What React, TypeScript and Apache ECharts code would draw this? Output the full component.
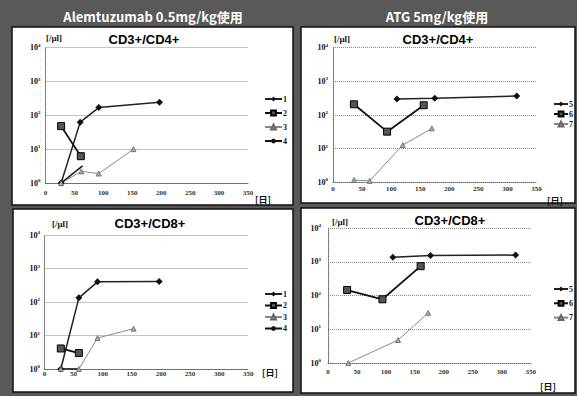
import React, { useEffect, useRef } from "react";
import * as echarts from "echarts";

// ---- data ----
const xTicks = [0, 50, 100, 150, 200, 250, 300, 350];
const panelTitles = ["CD3+/CD4+", "CD3+/CD4+", "CD3+/CD8+", "CD3+/CD8+"];
const headerTitles = ["Alemtuzumab 0.5mg/kg使用", "ATG 5mg/kg使用"];
const leftPatients = ["1", "2", "3", "4"];
const rightPatients = ["5", "6", "7"];

// Top-left: Alemtuzumab, CD3+/CD4+  [day, cells/μl]
const tlP1 = [[27, 1], [60, 63], [92, 170], [197, 245]];
const tlP2 = [[27, 48], [61, 6.2]];
const tlP3 = [[27, 1], [62, 2.2], [92, 1.9], [152, 10]];
const tlP4 = [[27, 1], [64, 3.2]];

// Top-right: ATG, CD3+/CD4+
const trP5 = [[110, 300], [175, 313], [316, 367]];
const trP6 = [[36, 208], [93, 32], [156, 195]];
const trP7 = [[36, 1.17], [63, 1.1], [120, 12.8], [170, 40]];

// Bottom-left: Alemtuzumab, CD3+/CD8+
const blP1 = [[28, 1], [59, 133], [91, 400], [197, 410]];
const blP2 = [[28, 4.1], [59, 3.0]];
const blP3 = [[28, 1], [59, 1], [91, 8.4], [153, 16]];
const blP4 = [[28, 1], [59, 1]];

// Bottom-right: ATG, CD3+/CD8+
const brP5 = [[112, 1370], [177, 1570], [324, 1600]];
const brP6 = [[33, 147], [94, 78], [160, 750]];
const brP7 = [[35, 1], [121, 4.8], [173, 31]];

const SERIF = "'Liberation Serif', 'DejaVu Serif', serif";
const SANS = "'Liberation Sans', Arial, sans-serif";
const CJK = "'Noto Sans CJK JP', 'Noto Sans', sans-serif";

type Kind = "dia" | "sq" | "tri" | "ln";

function styleFor(kind: Kind) {
  if (kind === "dia")
    return {
      symbol: "diamond",
      symbolSize: 7,
      itemStyle: { color: "#111" },
      lineStyle: { color: "#222", width: 1.5 },
    };
  if (kind === "sq")
    return {
      symbol: "rect",
      symbolSize: 7,
      itemStyle: { color: "#555", borderColor: "#000", borderWidth: 1 },
      lineStyle: { color: "#111", width: 1.8 },
    };
  if (kind === "tri")
    return {
      symbol: "triangle",
      symbolSize: 5,
      itemStyle: { color: "#aaa", borderColor: "#666", borderWidth: 0.8 },
      lineStyle: { color: "#888", width: 1 },
    };
  return {
    symbol: "none",
    symbolSize: 3,
    itemStyle: { color: "#111" },
    lineStyle: { color: "#111", width: 1.5 },
  };
}

export default function App() {
  const ref = useRef<HTMLDivElement>(null);

  useEffect(() => {
    if (!ref.current) return;
    const chart = echarts.init(ref.current, null, { renderer: "svg" });

    const grids = [
      { left: 45.5, top: 47.7, width: 202.5, height: 135.3, yM: 5, xM: 6 },
      { left: 333, top: 47.7, width: 203.5, height: 134.6, yM: 5, xM: 3 },
      { left: 44.5, top: 235, width: 203.8, height: 134, yM: 4.5, xM: 1 },
      { left: 328, top: 228.3, width: 202.7, height: 134.7, yM: 7, xM: 5 },
    ];

    const panelData: { name: string; kind: Kind; data: number[][] }[][] = [
      [
        { name: leftPatients[0], kind: "dia", data: tlP1 },
        { name: leftPatients[1], kind: "sq", data: tlP2 },
        { name: leftPatients[2], kind: "tri", data: tlP3 },
        { name: leftPatients[3], kind: "ln", data: tlP4 },
      ],
      [
        { name: rightPatients[0], kind: "dia", data: trP5 },
        { name: rightPatients[1], kind: "sq", data: trP6 },
        { name: rightPatients[2], kind: "tri", data: trP7 },
      ],
      [
        { name: leftPatients[0], kind: "dia", data: blP1 },
        { name: leftPatients[1], kind: "sq", data: blP2 },
        { name: leftPatients[2], kind: "tri", data: blP3 },
        { name: leftPatients[3], kind: "ln", data: blP4 },
      ],
      [
        { name: rightPatients[0], kind: "dia", data: brP5 },
        { name: rightPatients[1], kind: "sq", data: brP6 },
        { name: rightPatients[2], kind: "tri", data: brP7 },
      ],
    ];

    const series: any[] = [];
    panelData.forEach((list, gi) => {
      list.forEach((s) => {
        series.push({
          type: "line",
          name: s.name,
          xAxisIndex: gi,
          yAxisIndex: gi,
          data: s.data,
          ...styleFor(s.kind),
        });
      });
    });

    const legendPos = [
      { left: 264, top: 94, gap: 4, width: 17, data: leftPatients },
      { left: 553, top: 99, gap: 0, width: 14, data: rightPatients },
      { left: 264, top: 289, gap: 1.5, width: 17, data: leftPatients },
      { left: 553, top: 284, gap: 4.3, width: 14, data: rightPatients },
    ];

    const panels = [
      { x: 12, y: 27, w: 281, h: 178 },
      { x: 301, y: 27, w: 274, h: 176 },
      { x: 13, y: 209, w: 280, h: 183 },
      { x: 301, y: 208, w: 274, h: 185 },
    ];

    const titlePos = [
      [144, 39],
      [438, 39],
      [150, 223],
      [450, 220],
    ];
    const unitPos = [
      [54, 38],
      [342, 39],
      [60, 224],
      [340, 222],
    ];
    const dayPos = [
      [263, 199],
      [555, 200],
      [270, 372],
      [548, 386],
    ];

    const graphic: any[] = [];
    panels.forEach((p) => {
      graphic.push({
        type: "rect",
        z: -10,
        shape: { x: p.x, y: p.y, width: p.w, height: p.h },
        style: { fill: "#fff", stroke: "#111", lineWidth: 1.5 },
        silent: true,
      });
    });
    graphic.push(
      {
        type: "text",
        x: 153,
        y: 16,
        style: {
          text: headerTitles[0],
          fill: "#fff",
          font: `bold 13px ${CJK}`,
          textAlign: "center",
          textVerticalAlign: "middle",
        },
      },
      {
        type: "text",
        x: 437,
        y: 16,
        style: {
          text: headerTitles[1],
          fill: "#fff",
          font: `bold 13px ${CJK}`,
          textAlign: "center",
          textVerticalAlign: "middle",
        },
      }
    );
    titlePos.forEach((t, i) => {
      graphic.push({
        type: "text",
        x: t[0],
        y: t[1],
        style: {
          text: panelTitles[i],
          fill: "#000",
          font: `bold 13px ${SANS}`,
          textAlign: "center",
          textVerticalAlign: "middle",
        },
      });
    });
    unitPos.forEach((t) => {
      graphic.push({
        type: "text",
        x: t[0],
        y: t[1],
        style: {
          text: "[/μl]",
          fill: "#111",
          font: `bold 9px ${SERIF}`,
          textAlign: "center",
          textVerticalAlign: "middle",
        },
      });
    });
    dayPos.forEach((t) => {
      graphic.push({
        type: "text",
        x: t[0],
        y: t[1],
        style: {
          text: "[日]",
          fill: "#111",
          font: `bold 9px ${CJK}`,
          textAlign: "center",
          textVerticalAlign: "middle",
        },
      });
    });

    const option: any = {
      animation: false,
      backgroundColor: "#595959",
      graphic,
      grid: grids.map((g) => ({
        left: g.left,
        top: g.top,
        width: g.width,
        height: g.height,
        containLabel: false,
      })),
      xAxis: grids.map((g, i) => ({
        type: "value",
        gridIndex: i,
        min: xTicks[0],
        max: xTicks[xTicks.length - 1],
        interval: xTicks[1] - xTicks[0],
        axisLine: { show: true, lineStyle: { color: "#666", type: "dotted", width: 1 } },
        axisTick: { show: false },
        splitLine: { show: false },
        axisLabel: {
          margin: g.xM,
          fontSize: 7,
          fontFamily: SERIF,
          fontWeight: "bold",
          color: "#333",
        },
      })),
      yAxis: grids.map((g, i) => ({
        type: "log",
        logBase: 10,
        gridIndex: i,
        min: 1,
        max: 10000,
        axisLine: { show: true, lineStyle: { color: "#666", type: "dotted", width: 1 } },
        axisTick: { show: false },
        splitLine: { show: true, lineStyle: { color: "#888", type: "dotted", width: 1 } },
        axisLabel: {
          margin: g.yM,
          formatter: (v: number) => `{b|10}{s|${Math.round(Math.log10(v))}}`,
          rich: {
            b: { fontSize: 8, fontFamily: SERIF, fontWeight: "bold", color: "#111" },
            s: {
              fontSize: 5,
              fontFamily: SERIF,
              fontWeight: "bold",
              color: "#111",
              padding: [0, 0, 5, 0],
            },
          },
        },
      })),
      legend: legendPos.map((l) => ({
        data: l.data,
        orient: "vertical",
        left: l.left,
        top: l.top,
        itemGap: l.gap,
        itemWidth: l.width,
        itemHeight: 6,
        padding: 0,
        selectedMode: false,
        textStyle: {
          fontSize: 8,
          fontFamily: SERIF,
          fontWeight: "bold",
          color: "#111",
          lineHeight: 10,
          padding: [0, 0, 0, -4],
        },
      })),
      series,
    };

    chart.setOption(option);
    return () => chart.dispose();
  }, []);

  return (
    <div
      ref={ref}
      style={{ position: "absolute", left: 0, top: 0, width: 577, height: 396 }}
    />
  );
}
